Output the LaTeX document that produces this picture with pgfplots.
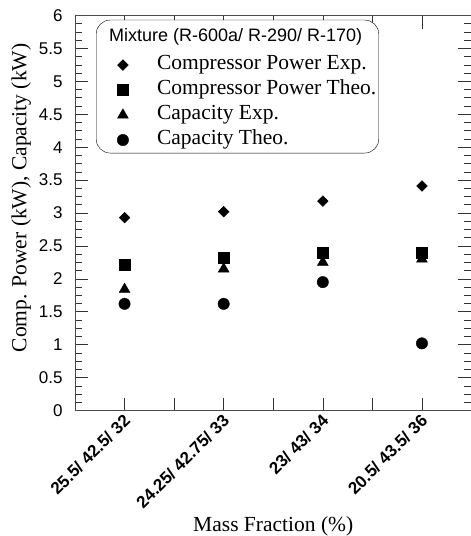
\documentclass[border=0pt]{standalone}
\usepackage{fontspec}
\setmainfont{Liberation Serif}
\setsansfont{Liberation Sans}
\usepackage{pgfplots}
\pgfplotsset{compat=1.18}
\pgfplotsset{mylegimg/.style={legend image code/.code={\path (-26pt,0pt) (32pt,0pt); \draw[##1] plot coordinates {(0pt,0pt)};}}}
\begin{document}
\begin{tikzpicture}
\begin{axis}[
  at={(0,0)}, anchor=south west,
  width=396.5pt, height=395pt, scale only axis,
  xmin=0.5, xmax=4.5, ymin=0, ymax=6,
  xtick={0.5,1,1.5,2,2.5,3,3.5,4,4.5},
  xticklabels={{},{25.5/ 42.5/ 32},{},{24.25/ 42.75/ 33},{},{23/ 43/ 34},{},{20.5/ 43.5/ 36},{}},
  ytick={0,0.5,...,6},
  minor y tick num=3,
  major tick length=13pt, minor tick length=7pt,
  axis line style={black!70},
  tick style={black!80, line width=0.6pt},
  /pgf/number format/assume math mode=true,
  yticklabel style={font=\sffamily\fontsize{17}{17}\selectfont, xshift=-9pt},
  xticklabel style={font=\sffamily\bfseries\fontsize{17}{17}\selectfont, rotate=45, anchor=east, xshift=0pt, yshift=-7pt},
  xlabel={Mass Fraction (\%)},
  xlabel style={font=\fontsize{21.5}{24}\selectfont, yshift=1pt},
  ylabel={Comp. Power (kW), Capacity (kW)},
  ylabel style={font=\fontsize{21.5}{24}\selectfont, at={(ticklabel cs:0.538,1pt)}},
  legend cell align=left,
  legend style={at={(0.053,0.989)}, anchor=north west, draw=black, rounded corners=14pt,
    font=\fontsize{21.5}{25}\selectfont, row sep=0pt, inner sep=0.5pt,
    nodes={text height=15pt, text depth=6pt, inner sep=2pt}},
]
\addlegendimage{empty legend}
\addlegendentry[text height=19pt, text depth=9pt]{\hspace*{-48pt}\sffamily\fontsize{18}{20}\selectfont Mixture (R-600a/ R-290/ R-170)}
\addplot[only marks, mylegimg, mark=square*, mark size=3.8pt, mark options={rotate=45, fill=black, sharp corners}]
  coordinates {(1,2.93)(2,3.02)(3,3.18)(4,3.41)};
\addlegendentry{Compressor Power Exp.}
\addplot[only marks, mylegimg, mark=square*, mark size=5.5pt, mark options={fill=black, sharp corners}]
  coordinates {(1,2.21)(2,2.32)(3,2.40)(4,2.40)};
\addlegendentry{Compressor Power Theo.}
\addplot[only marks, mylegimg, mark=triangle*, mark size=6.3pt, mark options={fill=black, sharp corners}]
  coordinates {(1,1.84)(2,2.15)(3,2.25)(4,2.30)};
\addlegendentry{Capacity Exp.}
\addplot[only marks, mylegimg, mark=*, mark size=5.7pt, mark options={fill=black, sharp corners}]
  coordinates {(1,1.62)(2,1.62)(3,1.95)(4,1.02)};
\addlegendentry{Capacity Theo.}
\end{axis}
\pgfresetboundingbox
\path[use as bounding box] (-75pt,-125.5pt) rectangle (396pt,410.5pt);
\end{tikzpicture}
\end{document}
